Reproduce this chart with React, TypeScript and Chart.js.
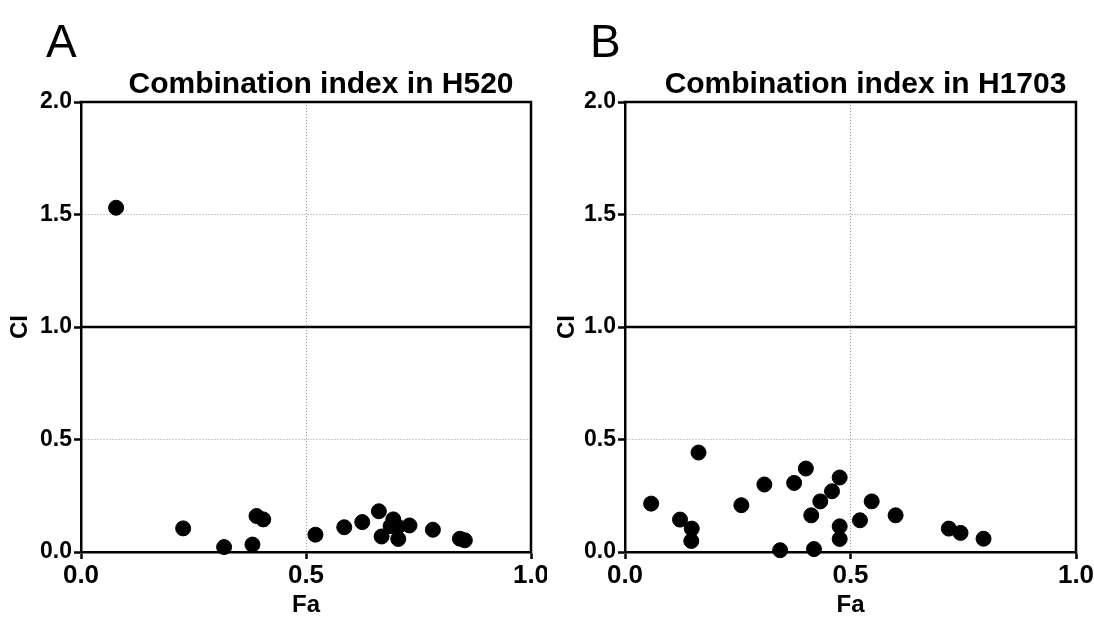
import React, { useEffect, useRef } from "react";
import { Chart, registerables } from "chart.js";

Chart.register(...registerables);

// ---- data ----
const faH520 = [0.078, 0.227, 0.318, 0.381, 0.39, 0.405, 0.521, 0.585, 0.625, 0.662, 0.668, 0.688, 0.694, 0.704, 0.705, 0.73, 0.782, 0.842, 0.853];
const ciH520 = [1.53, 0.105, 0.022, 0.033, 0.16, 0.145, 0.077, 0.11, 0.133, 0.181, 0.069, 0.115, 0.145, 0.112, 0.058, 0.118, 0.099, 0.059, 0.052];
const faH1703 = [0.058, 0.122, 0.148, 0.147, 0.163, 0.258, 0.309, 0.344, 0.375, 0.401, 0.413, 0.419, 0.433, 0.459, 0.476, 0.476, 0.476, 0.521, 0.547, 0.6, 0.718, 0.744, 0.795];
const ciH1703 = [0.215, 0.144, 0.104, 0.049, 0.442, 0.208, 0.3, 0.008, 0.307, 0.371, 0.163, 0.013, 0.225, 0.27, 0.331, 0.114, 0.058, 0.141, 0.225, 0.163, 0.104, 0.085, 0.059];
const xTicks = [0, 0.5, 1];
const yTicks = [0, 0.5, 1, 1.5, 2];
const referenceCI = 1;
const panelLetters = ["A", "B"];
const panelTitles = ["Combination index in H520", "Combination index in H1703"];
const xAxisTitle = "Fa";
const yAxisTitle = "CI";

const FONT = "'Liberation Sans', Arial, sans-serif";

type PanelProps = {
  letter: string;
  title: string;
  fa: number[];
  ci: number[];
  axisWidth: number;
  padRight: number;
};

function Panel({ letter, title, fa, ci, axisWidth, padRight }: PanelProps) {
  const ref = useRef<HTMLCanvasElement | null>(null);
  useEffect(() => {
    if (!ref.current) return;
    const textPlugin = {
      id: "panelText",
      afterDraw(chart: any) {
        const { ctx, chartArea } = chart;
        ctx.save();
        ctx.fillStyle = "#000";
        ctx.textBaseline = "alphabetic";
        ctx.textAlign = "left";
        ctx.font = `46px ${FONT}`;
        ctx.fillText(letter, axisWidth - 35, 57);
        ctx.textAlign = "center";
        ctx.font = `bold 30px ${FONT}`;
        ctx.fillText(title, (chartArea.left + chartArea.right) / 2 + 15, 93);
        ctx.restore();
      },
    };
    const framePlugin = {
      id: "frame",
      beforeDatasetsDraw(chart: any) {
        const { ctx, chartArea } = chart;
        ctx.save();
        ctx.strokeStyle = "#000";
        ctx.lineWidth = 2.5;
        ctx.beginPath();
        ctx.moveTo(chartArea.left - 1.5, chartArea.top);
        ctx.lineTo(chartArea.right, chartArea.top);
        ctx.lineTo(chartArea.right, chartArea.bottom + 1.5);
        ctx.stroke();
        ctx.restore();
      },
    };
    const gridColor = (ctx: any) => {
      const v = ctx.tick ? ctx.tick.value : null;
      return v === 0.5 || v === 1.5 ? "#9a9a9a" : "rgba(0,0,0,0)";
    };
    const chart = new Chart(ref.current, {
      type: "scatter",
      data: {
        datasets: [
          {
            type: "line",
            data: [
              { x: xTicks[0], y: referenceCI },
              { x: xTicks[xTicks.length - 1], y: referenceCI },
            ],
            borderColor: "#000",
            borderWidth: 2.5,
            pointRadius: 0,
            order: 2,
          } as any,
          {
            data: fa.map((x, i) => ({ x, y: ci[i] })),
            backgroundColor: "#000",
            borderColor: "#000",
            pointRadius: 7.5,
            pointHoverRadius: 7.5,
            clip: false,
            order: 1,
          } as any,
        ],
      },
      options: {
        responsive: false,
        animation: false,
        events: [],
        layout: { padding: { top: 102, right: padRight, left: 0, bottom: 0 } },
        plugins: { legend: { display: false }, tooltip: { enabled: false }, title: { display: false } },
        scales: {
          x: {
            type: "linear",
            min: xTicks[0],
            max: xTicks[xTicks.length - 1],
            afterBuildTicks: (s: any) => {
              s.ticks = xTicks.map((v) => ({ value: v }));
            },
            afterFit: (s: any) => {
              s.height = 65;
              s.paddingLeft = 0;
              s.paddingRight = 0;
            },
            grid: { color: gridColor, lineWidth: 1, tickColor: "#000", tickWidth: 2.5, tickLength: 7 },
            border: { color: "#000", width: 2.5, dash: [1, 2] },
            ticks: {
              font: { family: FONT, size: 26, weight: "bold" },
              color: "#000",
              padding: 1,
              maxRotation: 0,
              autoSkip: false,
              callback: (v: any) => Number(v).toFixed(1),
            },
            title: {
              display: true,
              text: xAxisTitle,
              color: "#000",
              font: { family: FONT, size: 24, weight: "bold", lineHeight: 1 },
              padding: { top: 0, bottom: 0 },
            },
          },
          y: {
            type: "linear",
            min: yTicks[0],
            max: yTicks[yTicks.length - 1],
            afterBuildTicks: (s: any) => {
              s.ticks = yTicks.map((v) => ({ value: v }));
            },
            afterFit: (s: any) => {
              s.width = axisWidth;
              s.paddingTop = 0;
              s.paddingBottom = 0;
            },
            grid: { color: gridColor, lineWidth: 1, tickColor: "#000", tickWidth: 2.5, tickLength: 7 },
            border: { color: "#000", width: 2.5, dash: [1, 2] },
            ticks: {
              font: { family: FONT, size: 23, weight: "bold" },
              color: "#000",
              padding: 2,
              autoSkip: false,
              callback: (v: any) => Number(v).toFixed(1),
            },
            title: {
              display: true,
              text: yAxisTitle,
              color: "#000",
              font: { family: FONT, size: 24, weight: "bold", lineHeight: 1 },
              padding: { top: 8, bottom: 0 },
            },
          },
        },
      } as any,
      plugins: [framePlugin, textPlugin],
    });
    return () => chart.destroy();
  }, [letter, title, fa, ci, axisWidth, padRight]);
  return <canvas ref={ref} width={547} height={617} style={{ display: "block" }} />;
}

export default function App() {
  return (
    <div
      style={{
        position: "fixed",
        left: 0,
        top: 0,
        width: 1094,
        height: 617,
        background: "#fff",
        display: "flex",
      }}
    >
      <Panel letter={panelLetters[0]} title={panelTitles[0]} fa={faH520} ci={ciH520} axisWidth={81} padRight={16} />
      <Panel letter={panelLetters[1]} title={panelTitles[1]} fa={faH1703} ci={ciH1703} axisWidth={78} padRight={18} />
    </div>
  );
}
